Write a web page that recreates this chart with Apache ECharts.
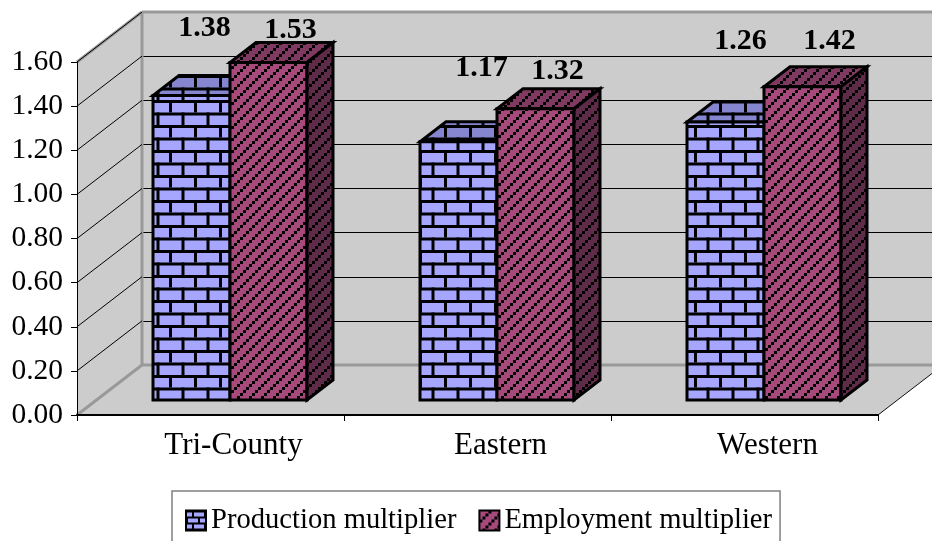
<!DOCTYPE html>
<html>
<head>
<meta charset="utf-8">
<style>
  html, body { margin: 0; padding: 0; background: #fff; }
  #chart { width: 932px; height: 541px; }
</style>
<script src="https://cdn.jsdelivr.net/npm/echarts@6/dist/echarts.min.js"></script>
</head>
<body>
<div id="chart"></div>
<script>
// values
const categories = ['Tri-County', 'Eastern', 'Western'];
const productionValues = [1.38, 1.17, 1.26];
const employmentValues = [1.53, 1.32, 1.42];
const yTicks = [0.2, 0.4, 0.6, 0.8, 1.0, 1.2, 1.4, 1.6];

// hand placed data labels, offset from the bar's front top centre
const productionLabelOffsets = [[13, -67], [23, -74], [15, -81]];
const employmentLabelOffsets = [[22, -32], [22, -38], [27, -45]];

const FONT = '"Liberation Serif", "Times New Roman", serif';
const ROOM_DX = 65, ROOM_DY = 50; // depth of the walls
const BAR_DX = 26, BAR_DY = 20;   // depth of a bar
const BAR_W = 77;

function makeTile(w, h, draw) {
  const c = document.createElement('canvas');
  c.width = w;
  c.height = h;
  draw(c.getContext('2d'));
  return { image: c, repeat: 'repeat' };
}

function brick(face, size) {
  return makeTile(size, size, ctx => {
    const m = size > 12 ? 3 : 2;
    const half = size / 2;
    ctx.fillStyle = face;
    ctx.fillRect(0, 0, size, size);
    ctx.fillStyle = '#000';
    ctx.fillRect(0, 0, size, m);
    ctx.fillRect(0, half, size, m);
    ctx.fillRect(size - 6, 0, m, half);
    ctx.fillRect(size - 6 - half, half, m, half);
  });
}

// rising dotted stripes, one stripe per tile
function hatch(face) {
  return makeTile(12, 12, ctx => {
    ctx.fillStyle = face;
    ctx.fillRect(0, 0, 12, 12);
    ctx.fillStyle = '#000';
    [0, 3, 6, 9].forEach(d => ctx.fillRect(d, 9 - d, 3, 3));
  });
}

const brickFront = brick('#A6A6FF', 25);
const brickTop = brick('#8686D0', 25);
const hatchFront = hatch('#A64A7C');
const hatchTop = hatch('#803A62');
const hatchSide = hatch('#5E2B49');

function bar3d(values, labelOffsets, shift, fills) {
  return function (params, api) {
    const i = api.value(0);
    const top = api.coord([i, api.value(1)]);
    const base = api.coord([i, 0]);
    const x0 = top[0] + shift - BAR_W / 2, x1 = x0 + BAR_W;
    const edge = { stroke: '#000', lineWidth: 3, lineJoin: 'miter' };
    const off = labelOffsets[i];
    const faces = [
      [fills.top, [[x0, top[1]], [x1, top[1]], [x1 + BAR_DX, top[1] - BAR_DY], [x0 + BAR_DX, top[1] - BAR_DY]]],
      [fills.front, [[x0, top[1]], [x1, top[1]], [x1, base[1]], [x0, base[1]]]]
    ];
    if (fills.side) {
      faces.push([fills.side, [[x1, top[1]], [x1 + BAR_DX, top[1] - BAR_DY], [x1 + BAR_DX, base[1] - BAR_DY], [x1, base[1]]]]);
    }
    const children = faces.map(f => ({
      type: 'polygon',
      shape: { points: f[1] },
      style: Object.assign({ fill: f[0] }, edge)
    }));
    children.push({
      type: 'text',
      x: top[0] + shift + off[0],
      y: top[1] + off[1],
      z2: 50,
      style: {
        text: values[i].toFixed(2),
        font: 'bold 30px ' + FONT,
        fill: '#000',
        align: 'center',
        verticalAlign: 'middle'
      }
    });
    return { type: 'group', children: children };
  };
}

function renderRoom(params) {
  const g = params.coordSys;
  const l = g.x, r = g.x + g.width, t = g.y, b = g.y + g.height;
  const wallEdge = { stroke: '#999', lineWidth: 3, fill: 'none' };
  return {
    type: 'group',
    children: [
      { type: 'polygon', shape: { points: [[l, b], [l + ROOM_DX, b - ROOM_DY], [l + ROOM_DX, t - ROOM_DY], [l, t]] }, style: { fill: '#CCCCCC' } },
      { type: 'polygon', shape: { points: [[l, b], [l + ROOM_DX, b - ROOM_DY], [r + ROOM_DX, b - ROOM_DY], [r, b]] }, style: { fill: '#CCCCCC' } },
      { type: 'line', shape: { x1: l, y1: t, x2: l + ROOM_DX, y2: t - ROOM_DY }, style: wallEdge },
      { type: 'line', shape: { x1: l + ROOM_DX, y1: t - ROOM_DY, x2: l + ROOM_DX, y2: b - ROOM_DY }, style: wallEdge },
      { type: 'line', shape: { x1: l + ROOM_DX, y1: t - ROOM_DY, x2: r + ROOM_DX, y2: t - ROOM_DY }, style: wallEdge },
      { type: 'line', shape: { x1: l, y1: b, x2: l + ROOM_DX, y2: b - ROOM_DY }, style: wallEdge },
      { type: 'line', shape: { x1: l + ROOM_DX, y1: b - ROOM_DY, x2: r + ROOM_DX, y2: b - ROOM_DY }, style: wallEdge },
      { type: 'line', shape: { x1: r, y1: b, x2: r + ROOM_DX, y2: b - ROOM_DY }, style: { stroke: '#111', lineWidth: 1 } }
    ]
  };
}

function renderWallLine(params, api) {
  const p = api.coord([0, api.value(1)]);
  const x = params.coordSys.x;
  return {
    type: 'line',
    shape: { x1: x, y1: p[1], x2: x + ROOM_DX, y2: p[1] - ROOM_DY },
    style: { stroke: '#000', lineWidth: 1 }
  };
}

const legendItem = (name, color) => ({
  name: name,
  icon: 'rect',
  itemStyle: { color: color, borderColor: '#000', borderWidth: 2 }
});

const chart = echarts.init(document.getElementById('chart'), null, { renderer: 'canvas' });

chart.setOption({
  animation: false,
  backgroundColor: '#fff',
  textStyle: { fontFamily: FONT },
  legend: {
    left: 172,
    top: 491,
    orient: 'horizontal',
    backgroundColor: '#fff',
    borderColor: '#808080',
    borderWidth: 1.5,
    padding: [15, 8, 14, 13],
    itemWidth: 20,
    itemHeight: 20,
    itemGap: 22,
    selectedMode: false,
    textStyle: { fontFamily: FONT, fontSize: 28.6, color: '#000' },
    data: [
      legendItem('Production multiplier', brick('#A6A6FF', 12)),
      legendItem('Employment multiplier', hatch('#A64A7C'))
    ]
  },
  grid: [
    // front plane, carries the axes
    { left: 77, top: 62, width: 801, height: 353, outerBoundsMode: 'none' },
    // back wall
    { left: 77 + ROOM_DX, top: 62 - ROOM_DY, width: 801, height: 353, show: true, backgroundColor: '#CCCCCC', borderWidth: 0, outerBoundsMode: 'none' },
    // plane the bars stand on
    { left: 96.5, top: 47, width: 801, height: 353, outerBoundsMode: 'none' }
  ],
  xAxis: [
    {
      gridIndex: 0, type: 'category', data: categories,
      axisLine: { show: true, lineStyle: { color: '#000', width: 2 } },
      axisTick: { show: true, length: 6, lineStyle: { color: '#000', width: 1 } },
      axisLabel: { show: false },
      z: 20
    },
    { gridIndex: 1, type: 'category', data: categories, show: false },
    {
      gridIndex: 2, type: 'category', data: categories,
      axisLine: { show: false },
      axisTick: { show: false },
      axisLabel: { margin: 30, fontSize: 31, color: '#000', fontFamily: FONT, padding: [0, 0, 0, 7] },
      z: 20
    }
  ],
  yAxis: [
    {
      gridIndex: 0, type: 'value', min: 0, max: 1.6, interval: 0.2,
      axisLine: { show: true, lineStyle: { color: '#000', width: 1 } },
      axisTick: { show: true, length: 6, lineStyle: { color: '#000', width: 1 } },
      axisLabel: { margin: 14, fontSize: 29.5, color: '#000', fontFamily: FONT, formatter: v => v.toFixed(2) },
      splitLine: { show: false },
      z: 20
    },
    {
      gridIndex: 1, type: 'value', min: 0, max: 1.6, interval: 0.2,
      axisLine: { show: false }, axisTick: { show: false }, axisLabel: { show: false },
      splitLine: { show: true, lineStyle: { color: '#000', width: 1 } }
    },
    { gridIndex: 2, type: 'value', min: 0, max: 1.6, interval: 0.2, show: false, splitLine: { show: false } }
  ],
  series: [
    {
      type: 'custom', name: 'room', xAxisIndex: 0, yAxisIndex: 0, z: 3, silent: true, clip: false,
      renderItem: renderRoom, data: [[0, 0]]
    },
    {
      type: 'custom', name: 'wall lines', xAxisIndex: 0, yAxisIndex: 0, z: 4, silent: true, clip: false,
      renderItem: renderWallLine, data: yTicks.map(v => [0, v])
    },
    {
      type: 'custom', name: 'Production multiplier', xAxisIndex: 2, yAxisIndex: 2, z: 5, silent: true, clip: false,
      renderItem: bar3d(productionValues, productionLabelOffsets, -BAR_W / 2, { top: brickTop, front: brickFront }),
      data: productionValues.map((v, i) => [i, v])
    },
    {
      type: 'custom', name: 'Employment multiplier', xAxisIndex: 2, yAxisIndex: 2, z: 6, silent: true, clip: false,
      renderItem: bar3d(employmentValues, employmentLabelOffsets, BAR_W / 2, { top: hatchTop, front: hatchFront, side: hatchSide }),
      data: employmentValues.map((v, i) => [i, v])
    }
  ]
});
</script>
</body>
</html>
